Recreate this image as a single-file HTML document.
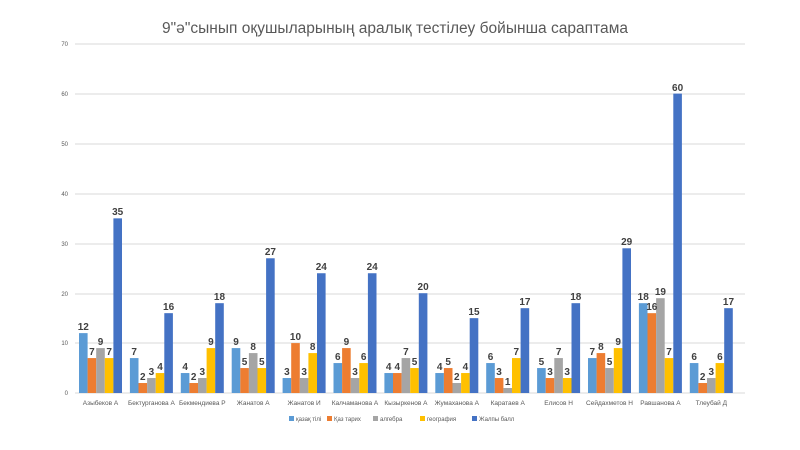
<!DOCTYPE html>
<html><head><meta charset="utf-8"><style>
html,body{margin:0;padding:0;background:#fff;}
svg{display:block;font-family:"Liberation Sans","DejaVu Sans",sans-serif;}
.v{font-size:10px;font-weight:bold;fill:#404040;text-anchor:middle;}
.x{font-size:6.5px;fill:#595959;text-anchor:middle;}
.y{font-size:6px;fill:#595959;text-anchor:end;}
.l{font-size:6px;fill:#595959;}
</style></head><body>
<svg width="800" height="450" viewBox="0 0 800 450">
<rect width="800" height="450" fill="#fff"/>
<text x="395" y="33" font-size="15.5" fill="#595959" text-anchor="middle" textLength="466">9"ә"сынып оқушыларының аралық тестілеу бойынша сараптама</text>
<g stroke="#d9d9d9" stroke-width="1">
<line x1="75" x2="745" y1="44" y2="44"/><line x1="75" x2="745" y1="94" y2="94"/>
<line x1="75" x2="745" y1="144" y2="144"/><line x1="75" x2="745" y1="194" y2="194"/>
<line x1="75" x2="745" y1="244" y2="244"/><line x1="75" x2="745" y1="294" y2="294"/>
<line x1="75" x2="745" y1="343" y2="343"/><line x1="75" x2="745" y1="393" y2="393"/>
</g>
<g class="y">
<text x="68" y="46" class="y">70</text><text x="68" y="96" class="y">60</text>
<text x="68" y="146" class="y">50</text><text x="68" y="196" class="y">40</text>
<text x="68" y="246" class="y">30</text><text x="68" y="296" class="y">20</text>
<text x="68" y="345" class="y">10</text><text x="68" y="395" class="y">0</text>
</g>
<defs>
<g id="c"></g>
</defs>
<!-- bars: translate(x0,393) scale(1,-4.99) -->
<g transform="translate(79,393) scale(1,-4.99)"><rect x="0" width="8.6" height="12" fill="#5B9BD5"/><rect x="8.6" width="8.6" height="7" fill="#ED7D31"/><rect x="17.2" width="8.6" height="9" fill="#A5A5A5"/><rect x="25.8" width="8.6" height="7" fill="#FFC000"/><rect x="34.4" width="8.6" height="35" fill="#4472C4"/></g>
<g transform="translate(129.9,393) scale(1,-4.99)"><rect x="0" width="8.6" height="7" fill="#5B9BD5"/><rect x="8.6" width="8.6" height="2" fill="#ED7D31"/><rect x="17.2" width="8.6" height="3" fill="#A5A5A5"/><rect x="25.8" width="8.6" height="4" fill="#FFC000"/><rect x="34.4" width="8.6" height="16" fill="#4472C4"/></g>
<g transform="translate(180.8,393) scale(1,-4.99)"><rect x="0" width="8.6" height="4" fill="#5B9BD5"/><rect x="8.6" width="8.6" height="2" fill="#ED7D31"/><rect x="17.2" width="8.6" height="3" fill="#A5A5A5"/><rect x="25.8" width="8.6" height="9" fill="#FFC000"/><rect x="34.4" width="8.6" height="18" fill="#4472C4"/></g>
<g transform="translate(231.7,393) scale(1,-4.99)"><rect x="0" width="8.6" height="9" fill="#5B9BD5"/><rect x="8.6" width="8.6" height="5" fill="#ED7D31"/><rect x="17.2" width="8.6" height="8" fill="#A5A5A5"/><rect x="25.8" width="8.6" height="5" fill="#FFC000"/><rect x="34.4" width="8.6" height="27" fill="#4472C4"/></g>
<g transform="translate(282.6,393) scale(1,-4.99)"><rect x="0" width="8.6" height="3" fill="#5B9BD5"/><rect x="8.6" width="8.6" height="10" fill="#ED7D31"/><rect x="17.2" width="8.6" height="3" fill="#A5A5A5"/><rect x="25.8" width="8.6" height="8" fill="#FFC000"/><rect x="34.4" width="8.6" height="24" fill="#4472C4"/></g>
<g transform="translate(333.5,393) scale(1,-4.99)"><rect x="0" width="8.6" height="6" fill="#5B9BD5"/><rect x="8.6" width="8.6" height="9" fill="#ED7D31"/><rect x="17.2" width="8.6" height="3" fill="#A5A5A5"/><rect x="25.8" width="8.6" height="6" fill="#FFC000"/><rect x="34.4" width="8.6" height="24" fill="#4472C4"/></g>
<g transform="translate(384.4,393) scale(1,-4.99)"><rect x="0" width="8.6" height="4" fill="#5B9BD5"/><rect x="8.6" width="8.6" height="4" fill="#ED7D31"/><rect x="17.2" width="8.6" height="7" fill="#A5A5A5"/><rect x="25.8" width="8.6" height="5" fill="#FFC000"/><rect x="34.4" width="8.6" height="20" fill="#4472C4"/></g>
<g transform="translate(435.3,393) scale(1,-4.99)"><rect x="0" width="8.6" height="4" fill="#5B9BD5"/><rect x="8.6" width="8.6" height="5" fill="#ED7D31"/><rect x="17.2" width="8.6" height="2" fill="#A5A5A5"/><rect x="25.8" width="8.6" height="4" fill="#FFC000"/><rect x="34.4" width="8.6" height="15" fill="#4472C4"/></g>
<g transform="translate(486.2,393) scale(1,-4.99)"><rect x="0" width="8.6" height="6" fill="#5B9BD5"/><rect x="8.6" width="8.6" height="3" fill="#ED7D31"/><rect x="17.2" width="8.6" height="1" fill="#A5A5A5"/><rect x="25.8" width="8.6" height="7" fill="#FFC000"/><rect x="34.4" width="8.6" height="17" fill="#4472C4"/></g>
<g transform="translate(537.1,393) scale(1,-4.99)"><rect x="0" width="8.6" height="5" fill="#5B9BD5"/><rect x="8.6" width="8.6" height="3" fill="#ED7D31"/><rect x="17.2" width="8.6" height="7" fill="#A5A5A5"/><rect x="25.8" width="8.6" height="3" fill="#FFC000"/><rect x="34.4" width="8.6" height="18" fill="#4472C4"/></g>
<g transform="translate(588,393) scale(1,-4.99)"><rect x="0" width="8.6" height="7" fill="#5B9BD5"/><rect x="8.6" width="8.6" height="8" fill="#ED7D31"/><rect x="17.2" width="8.6" height="5" fill="#A5A5A5"/><rect x="25.8" width="8.6" height="9" fill="#FFC000"/><rect x="34.4" width="8.6" height="29" fill="#4472C4"/></g>
<g transform="translate(638.9,393) scale(1,-4.99)"><rect x="0" width="8.6" height="18" fill="#5B9BD5"/><rect x="8.6" width="8.6" height="16" fill="#ED7D31"/><rect x="17.2" width="8.6" height="19" fill="#A5A5A5"/><rect x="25.8" width="8.6" height="7" fill="#FFC000"/><rect x="34.4" width="8.6" height="60" fill="#4472C4"/></g>
<g transform="translate(689.8,393) scale(1,-4.99)"><rect x="0" width="8.6" height="6" fill="#5B9BD5"/><rect x="8.6" width="8.6" height="2" fill="#ED7D31"/><rect x="17.2" width="8.6" height="3" fill="#A5A5A5"/><rect x="25.8" width="8.6" height="6" fill="#FFC000"/><rect x="34.4" width="8.6" height="17" fill="#4472C4"/></g>
<!-- value labels -->
<g transform="translate(79,0)"><text class="v" x="4.3" y="330">12</text><text class="v" x="12.9" y="355">7</text><text class="v" x="21.5" y="345">9</text><text class="v" x="30.1" y="355">7</text><text class="v" x="38.7" y="215">35</text></g>
<g transform="translate(129.9,0)"><text class="v" x="4.3" y="355">7</text><text class="v" x="12.9" y="380">2</text><text class="v" x="21.5" y="375">3</text><text class="v" x="30.1" y="370">4</text><text class="v" x="38.7" y="310">16</text></g>
<g transform="translate(180.8,0)"><text class="v" x="4.3" y="370">4</text><text class="v" x="12.9" y="380">2</text><text class="v" x="21.5" y="375">3</text><text class="v" x="30.1" y="345">9</text><text class="v" x="38.7" y="300">18</text></g>
<g transform="translate(231.7,0)"><text class="v" x="4.3" y="345">9</text><text class="v" x="12.9" y="365">5</text><text class="v" x="21.5" y="350">8</text><text class="v" x="30.1" y="365">5</text><text class="v" x="38.7" y="255">27</text></g>
<g transform="translate(282.6,0)"><text class="v" x="4.3" y="375">3</text><text class="v" x="12.9" y="340">10</text><text class="v" x="21.5" y="375">3</text><text class="v" x="30.1" y="350">8</text><text class="v" x="38.7" y="270">24</text></g>
<g transform="translate(333.5,0)"><text class="v" x="4.3" y="360">6</text><text class="v" x="12.9" y="345">9</text><text class="v" x="21.5" y="375">3</text><text class="v" x="30.1" y="360">6</text><text class="v" x="38.7" y="270">24</text></g>
<g transform="translate(384.4,0)"><text class="v" x="4.3" y="370">4</text><text class="v" x="12.9" y="370">4</text><text class="v" x="21.5" y="355">7</text><text class="v" x="30.1" y="365">5</text><text class="v" x="38.7" y="290">20</text></g>
<g transform="translate(435.3,0)"><text class="v" x="4.3" y="370">4</text><text class="v" x="12.9" y="365">5</text><text class="v" x="21.5" y="380">2</text><text class="v" x="30.1" y="370">4</text><text class="v" x="38.7" y="315">15</text></g>
<g transform="translate(486.2,0)"><text class="v" x="4.3" y="360">6</text><text class="v" x="12.9" y="375">3</text><text class="v" x="21.5" y="385">1</text><text class="v" x="30.1" y="355">7</text><text class="v" x="38.7" y="305">17</text></g>
<g transform="translate(537.1,0)"><text class="v" x="4.3" y="365">5</text><text class="v" x="12.9" y="375">3</text><text class="v" x="21.5" y="355">7</text><text class="v" x="30.1" y="375">3</text><text class="v" x="38.7" y="300">18</text></g>
<g transform="translate(588,0)"><text class="v" x="4.3" y="355">7</text><text class="v" x="12.9" y="350">8</text><text class="v" x="21.5" y="365">5</text><text class="v" x="30.1" y="345">9</text><text class="v" x="38.7" y="245">29</text></g>
<g transform="translate(638.9,0)"><text class="v" x="4.3" y="300">18</text><text class="v" x="12.9" y="310">16</text><text class="v" x="21.5" y="295">19</text><text class="v" x="30.1" y="355">7</text><text class="v" x="38.7" y="91">60</text></g>
<g transform="translate(689.8,0)"><text class="v" x="4.3" y="360">6</text><text class="v" x="12.9" y="380">2</text><text class="v" x="21.5" y="375">3</text><text class="v" x="30.1" y="360">6</text><text class="v" x="38.7" y="305">17</text></g>
<!-- x labels -->
<g class="x">
<text class="x" x="100.5" y="405">Азыбеков А</text>
<text class="x" x="151.4" y="405">Бектурганова А</text>
<text class="x" x="202.3" y="405">Бекмендиева Р</text>
<text class="x" x="253.2" y="405">Жанатов А</text>
<text class="x" x="304.1" y="405">Жанатов И</text>
<text class="x" x="355" y="405">Калчаманова А</text>
<text class="x" x="405.9" y="405">Кызыркенов А</text>
<text class="x" x="456.8" y="405">Жумаханова А</text>
<text class="x" x="507.7" y="405">Каратаев А</text>
<text class="x" x="558.6" y="405">Елисов Н</text>
<text class="x" x="609.5" y="405">Сейдахметов Н</text>
<text class="x" x="660.4" y="405">Равшанова А</text>
<text class="x" x="711.3" y="405">Тлеубай Д</text>
</g>
<!-- legend -->
<rect x="289" y="416" width="5" height="5" fill="#5B9BD5"/><text class="l" x="296" y="421">қазақ тілі</text>
<rect x="327" y="416" width="5" height="5" fill="#ED7D31"/><text class="l" x="334" y="421">Қаз тарих</text>
<rect x="373" y="416" width="5" height="5" fill="#A5A5A5"/><text class="l" x="380" y="421">алгебра</text>
<rect x="420" y="416" width="5" height="5" fill="#FFC000"/><text class="l" x="427" y="421">география</text>
<rect x="472" y="416" width="5" height="5" fill="#4472C4"/><text class="l" x="479" y="421">Жалпы балл</text>
</svg>
</body></html>
